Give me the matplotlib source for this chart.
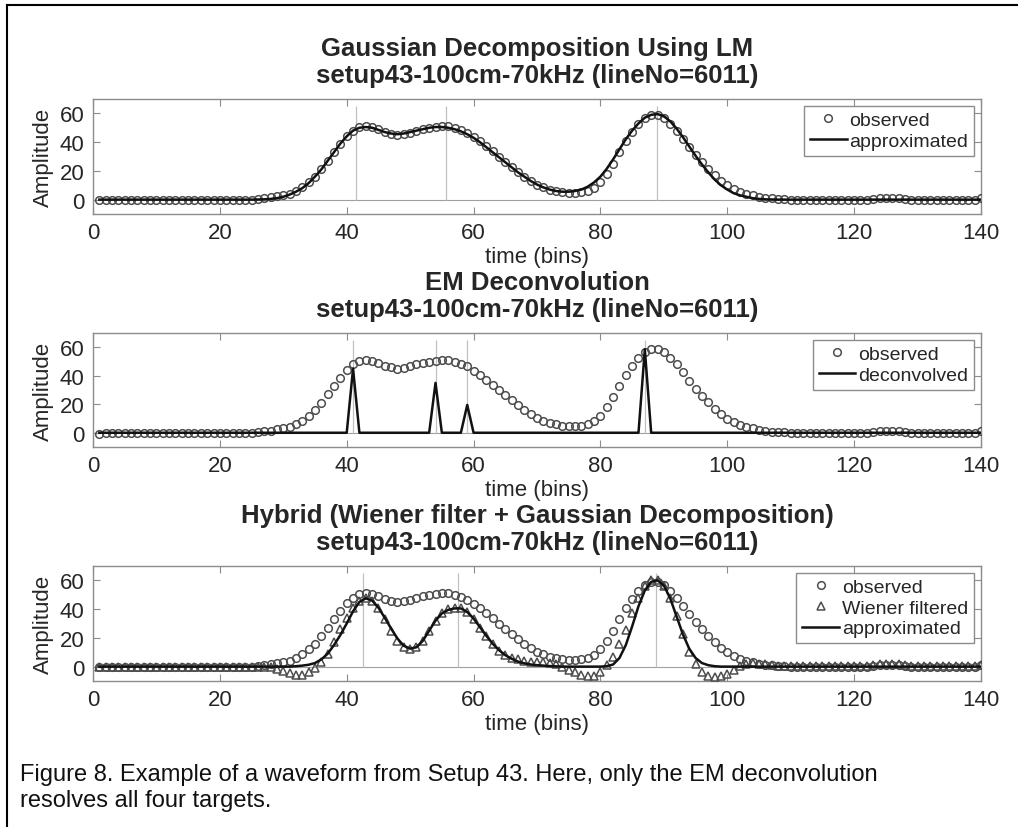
import matplotlib.pyplot as plt
import matplotlib.lines as mlines
import numpy as np

plt.rcParams['font.family'] = ['Liberation Sans', 'DejaVu Sans']

## data, time bins 1..140
bins = np.arange(1, 141)

observed = [
    -0.6, 0.0, 0.0, 0.0, 0.0, 0.0, 0.0, 0.0, 0.0, 0.0,
    0.0, 0.0, 0.0, 0.0, 0.0, 0.0, 0.0, 0.0, 0.0, 0.0,
    0.0, 0.0, 0.0, 0.0, 0.0, 0.3, 1.0, 1.5, 2.5, 3.0,
    4.0, 6.0, 8.5, 12.0, 16.0, 21.0, 27.0, 33.0, 38.5, 44.0,
    48.0, 50.5, 51.0, 50.5, 49.0, 47.0, 46.0, 45.0, 45.5, 46.5,
    48.0, 49.0, 50.0, 50.5, 51.0, 51.0, 50.0, 48.5, 46.5, 43.5,
    40.5, 37.0, 33.5, 30.0, 26.5, 23.0, 19.5, 16.0, 13.0, 10.5,
    8.5, 7.0, 6.0, 5.0, 4.5, 4.5, 5.0, 6.0, 8.0, 12.0,
    18.0, 25.0, 33.0, 40.5, 47.0, 52.5, 57.0, 59.0, 59.0, 56.5,
    52.5, 48.0, 42.5, 36.5, 31.0, 26.0, 21.5, 17.0, 13.0, 10.0,
    7.5, 5.5, 4.0, 3.0, 2.0, 1.2, 0.8, 0.5, 0.2, 0.0,
    0.0, 0.0, 0.0, 0.0, 0.0, 0.0, 0.0, 0.0, 0.0, 0.0,
    0.0, 0.0, 0.3, 1.0, 1.2, 1.2, 1.0, 0.3, 0.0, 0.0,
    0.0, 0.0, 0.0, 0.0, 0.0, 0.0, 0.0, 0.0, 0.0, 1.0,
]

approx_lm = [
    0.0, 0.0, 0.0, 0.0, 0.0, 0.0, 0.0, 0.0, 0.0, 0.0,
    0.0, 0.0, 0.0, 0.0, 0.0, 0.0, 0.0, 0.0, 0.0, 0.0,
    0.0, 0.0, 0.0, 0.0, 0.0, 0.1, 0.2, 0.5, 1.0, 2.0,
    3.5, 5.5, 8.0, 11.5, 16.0, 21.0, 27.0, 33.0, 39.0, 44.0,
    48.0, 50.0, 50.5, 50.0, 48.5, 47.0, 46.0, 45.5, 46.0, 47.0,
    48.0, 49.0, 50.0, 50.5, 50.5, 50.0, 49.0, 47.5, 45.5, 43.0,
    40.0, 36.5, 33.0, 29.5, 26.0, 22.5, 19.0, 16.0, 13.0, 10.5,
    8.5, 7.0, 6.0, 5.5, 5.5, 6.0, 7.0, 9.0, 12.0, 16.0,
    21.5, 28.0, 35.0, 42.0, 48.0, 53.0, 57.0, 59.0, 59.5, 58.0,
    54.5, 49.5, 43.5, 37.0, 30.5, 24.5, 19.0, 14.0, 10.0, 7.0,
    4.5, 3.0, 2.0, 1.0, 0.5, 0.2, 0.1, 0.0, 0.0, 0.0,
    0.0, 0.0, 0.0, 0.0, 0.0, 0.0, 0.0, 0.0, 0.0, 0.0,
    0.0, 0.0, 0.0, 0.0, 0.0, 0.0, 0.0, 0.0, 0.0, 0.0,
    0.0, 0.0, 0.0, 0.0, 0.0, 0.0, 0.0, 0.0, 0.0, 0.0,
]

# EM deconvolution: spikes (bin, amplitude), zero elsewhere
spike_bins = [41, 54, 59, 87]
spike_amps = [45.0, 35.0, 19.5, 58.5]
deconvolved = np.zeros(len(bins))
for b, a in zip(spike_bins, spike_amps):
    deconvolved[b - 1] = a

wiener = [
    0.0, 0.0, 0.0, 0.0, 0.0, 0.0, 0.0, 0.0, 0.0, 0.0,
    0.0, 0.0, 0.0, 0.0, 0.0, 0.0, 0.0, 0.0, 0.0, 0.0,
    0.0, 0.0, 0.0, 0.0, 0.0, 0.0, 0.0, 0.0, -1.5, -3.0,
    -4.5, -5.5, -5.5, -4.0, -1.0, 3.0, 9.0, 17.0, 26.0, 34.0,
    41.0, 46.0, 47.5, 46.0, 41.0, 33.0, 25.0, 18.0, 14.0, 12.5,
    13.5, 18.0, 25.0, 32.0, 37.0, 40.0, 41.0, 40.5, 38.0, 33.0,
    27.0, 21.0, 15.5, 11.0, 8.0, 6.0, 5.0, 4.0, 3.5, 3.0,
    3.0, 2.5, 1.5, 0.0, -2.0, -3.5, -5.5, -6.5, -6.5, -4.0,
    1.0, 7.0, 16.0, 25.5, 37.0, 47.5, 56.0, 60.0, 60.5, 56.0,
    47.5, 35.0, 23.0, 10.0, 1.5, -3.5, -6.5, -7.5, -6.5, -5.0,
    -2.5, 0.5, 2.0, 2.5, 2.0, 1.5, 1.0, 0.5, 0.5, 0.5,
    0.5, 0.5, 0.5, 0.5, 0.5, 0.5, 0.5, 0.5, 0.5, 0.5,
    0.5, 0.5, 1.0, 1.5, 1.5, 1.5, 1.5, 1.0, 0.5, 0.5,
    0.5, 0.5, 0.5, 0.5, 0.5, 0.5, 0.5, 0.5, 0.5, 1.0,
]

approx_hybrid = [
    0.0, 0.0, 0.0, 0.0, 0.0, 0.0, 0.0, 0.0, 0.0, 0.0,
    0.0, 0.0, 0.0, 0.0, 0.0, 0.0, 0.0, 0.0, 0.0, 0.0,
    0.0, 0.0, 0.0, 0.0, 0.0, 0.0, 0.0, 0.0, 0.0, 0.0,
    0.0, 0.3, 0.7, 1.3, 2.5, 5.0, 9.0, 15.0, 22.0, 30.0,
    38.5, 45.0, 47.5, 46.0, 41.0, 34.0, 26.5, 19.5, 14.5, 12.5,
    13.5, 18.0, 25.0, 32.0, 37.0, 39.5, 40.5, 40.5, 38.0, 33.5,
    27.5, 21.5, 16.0, 11.5, 8.0, 5.5, 3.5, 2.3, 1.5, 1.0,
    0.7, 0.4, 0.2, 0.0, 0.0, 0.0, 0.0, 0.0, 0.0, 0.0,
    0.3, 1.5, 6.0, 15.0, 28.0, 42.0, 53.0, 59.0, 60.0, 56.5,
    47.5, 35.0, 22.5, 12.5, 6.0, 2.5, 1.0, 0.3, 0.0, 0.0,
    0.0, 0.0, 0.0, 0.0, 0.0, 0.0, 0.0, 0.0, 0.0, 0.0,
    0.0, 0.0, 0.0, 0.0, 0.0, 0.0, 0.0, 0.0, 0.0, 0.0,
    0.0, 0.0, 0.0, 0.0, 0.0, 0.0, 0.0, 0.0, 0.0, 0.0,
    0.0, 0.0, 0.0, 0.0, 0.0, 0.0, 0.0, 0.0, 0.0, 0.0,
]

# estimated target positions (thin gray markers)
centers_lm = [41.5, 55.6, 88.9]
centers_em = spike_bins
centers_hybrid = [42.6, 57.5, 88.7]
marker_top = 65

subtitle = 'setup43-100cm-70kHz (lineNo=6011)'
titles = ['Gaussian Decomposition Using LM',
          'EM Deconvolution',
          'Hybrid (Wiener filter + Gaussian Decomposition)']

caption = ('Figure 8. Example of a waveform from Setup 43. Here, only the EM deconvolution\n'
           'resolves all four targets.')

## styles
txt = '#262626'
edge = '#8c8c8c'
mk = '#4d4d4d'

fig = plt.figure(figsize=(10.18, 8.28), dpi=100)
W, H = 1018, 828
boxes = [(100, 215), (334, 448), (567, 682)]
axes = []
for top, bot in boxes:
    ax = fig.add_axes([93 / W, 1 - bot / H, 888 / W, (bot - top) / H])
    axes.append(ax)


def style(ax, title):
    ax.set_xlim(0, 140)
    ax.set_ylim(-10, 70)
    ax.set_xticks(range(0, 141, 20))
    ax.set_yticks([0, 20, 40, 60])
    ax.tick_params(direction='in', top=True, right=True, length=5, width=0.8,
                   color=edge, labelcolor=txt, labelsize=16, pad=6)
    for s in ax.spines.values():
        s.set_color(edge)
        s.set_linewidth(1.0)
    ax.set_xlabel('time (bins)', fontsize=16, color=txt, labelpad=2)
    ax.set_ylabel('Amplitude', fontsize=16, color=txt, labelpad=4)
    ax.set_title(title + '\n' + subtitle, fontsize=18.5, fontweight='bold',
                 color=txt, pad=12, linespacing=1.2)
    ax.axhline(0, color='#a0a0a0', lw=0.8, zorder=1)


def targets(ax, xs):
    ax.vlines(xs, 0, marker_top, color='#c0c0c0', lw=0.9, zorder=1)


leg_kw = dict(loc='upper right', fontsize=14, frameon=True, fancybox=False,
              edgecolor=edge, framealpha=1, borderaxespad=0.35, borderpad=0.3,
              handlelength=1.9, handletextpad=0.15, labelspacing=0.15)
circ = dict(ls='none', marker='o', ms=5.5, mfc='none', mec=mk, mew=1.1)
tri = dict(ls='none', marker='^', ms=5.5, mfc='none', mec=mk, mew=1.1)

# panel 1
ax = axes[0]
style(ax, titles[0])
targets(ax, centers_lm)
ax.plot(bins, observed, label='observed', zorder=3, **circ)
ax.plot(bins, approx_lm, color='#111111', lw=1.8, label='approximated', zorder=4)
lg = ax.legend(**leg_kw)
for t in lg.get_texts():
    t.set_color(txt)

# panel 2
ax = axes[1]
style(ax, titles[1])
targets(ax, centers_em)
ax.plot(bins, observed, label='observed', zorder=3, **circ)
ax.plot(bins, deconvolved, color='#111111', lw=1.8, label='deconvolved', zorder=4)
lg = ax.legend(**leg_kw)
for t in lg.get_texts():
    t.set_color(txt)

# panel 3
ax = axes[2]
style(ax, titles[2])
targets(ax, centers_hybrid)
ax.plot(bins, observed, label='observed', zorder=3, **circ)
ax.plot(bins, wiener, label='Wiener filtered', zorder=3, **tri)
ax.plot(bins, approx_hybrid, color='#111111', lw=1.8, label='approximated', zorder=4)
lg = ax.legend(**leg_kw)
for t in lg.get_texts():
    t.set_color(txt)

# page frame (top and left rules) and caption
fig.add_artist(mlines.Line2D([7 / W, 1], [1 - 6 / H, 1 - 6 / H], color='black', lw=1.5))
fig.add_artist(mlines.Line2D([7 / W, 7 / W], [0, 1 - 6 / H], color='black', lw=1.5))
fig.text(20 / W, 1 - 764 / H, caption, fontsize=17, color='#111111', va='top', ha='left',
         linespacing=1.25)

fig.savefig('out.png', dpi=100)
